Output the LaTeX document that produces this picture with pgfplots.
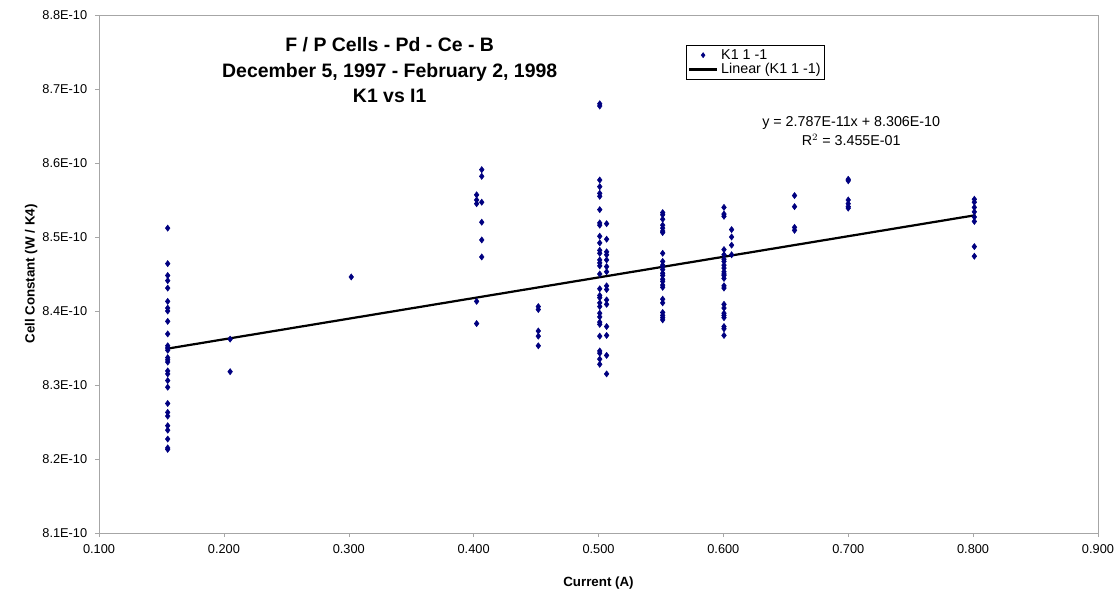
\documentclass[border=0pt]{standalone}
\usepackage{pgfplots}
\pgfplotsset{compat=1.18}
\usepackage{fontspec}
\setmainfont{Liberation Sans}
\definecolor{navy}{HTML}{000080}

\begin{document}
\begin{tikzpicture}
% page = 1117x593 px at 0.72pt/px, axis box at (99,15)-(1098,533)
\path[use as bounding box] (-71.3pt,-43.2pt) rectangle (733pt,383.8pt);
\begin{axis}[
    scale only axis,
    width=719.3pt, height=373pt,
    xmin=0.1, xmax=0.9, ymin=8.1, ymax=8.8,
    xtick={0.1,0.2,...,0.9},
    xticklabels={0.100,0.200,0.300,0.400,0.500,0.600,0.700,0.800,0.900},
    ytick={8.1,8.2,...,8.8},
    yticklabels={8.1E-10,8.2E-10,8.3E-10,8.4E-10,8.5E-10,8.6E-10,8.7E-10,8.8E-10},
    tick label style={font=\fontsize{9.2}{10}\selectfont},
    xticklabel style={yshift=-2pt},
    yticklabel style={xshift=-2pt},
    tick align=outside,
    xtick pos=bottom, ytick pos=left,
    major tick length=3pt,
    axis line style={gray!70},
    tick style={gray!70},
    xlabel={\bfseries Current (A)},
    ylabel={\bfseries Cell Constant (W / K4)},
    label style={font=\fontsize{9.6}{10}\selectfont},
    xlabel style={at={(axis description cs:0.5,-0.076)},anchor=north},
    ylabel style={at={(axis description cs:-0.068,0.5)},anchor=center},
    legend style={at={(rel axis cs:0.588,0.942)},anchor=north west,
        font=\fontsize{10.3}{11}\selectfont, draw=black, inner sep=0.8pt,
        row sep=-2.5pt, cells={anchor=west}},
]
% y values in units of 1E-10
\addplot[only marks, mark=diamond*, mark size=2.2pt, color=navy,
    legend image code/.code={\draw[navy,fill=navy,mark=diamond*,mark size=1.8pt] plot coordinates {(0.36cm,0cm)};}]
table {
x y
0.155 8.512
0.155 8.464
0.155 8.448
0.155 8.441
0.155 8.431
0.155 8.413
0.155 8.404
0.155 8.400
0.155 8.386
0.155 8.369
0.155 8.353
0.155 8.350
0.155 8.347
0.155 8.337
0.155 8.334
0.155 8.331
0.155 8.319
0.155 8.315
0.155 8.306
0.155 8.297
0.155 8.275
0.155 8.263
0.155 8.258
0.155 8.245
0.155 8.239
0.155 8.227
0.155 8.215
0.155 8.213
0.205 8.362
0.205 8.318
0.302 8.446
0.4065 8.591
0.4065 8.582
0.4024 8.557
0.4024 8.550
0.4024 8.545
0.4065 8.547
0.4065 8.520
0.4065 8.496
0.4065 8.473
0.4024 8.413
0.4024 8.383
0.4518 8.406
0.4518 8.402
0.4518 8.373
0.4518 8.366
0.4518 8.353
0.501 8.680
0.501 8.677
0.501 8.577
0.501 8.568
0.501 8.559
0.501 8.555
0.501 8.537
0.501 8.519
0.501 8.516
0.501 8.501
0.501 8.492
0.501 8.482
0.501 8.478
0.501 8.469
0.501 8.465
0.501 8.461
0.501 8.450
0.501 8.430
0.501 8.421
0.501 8.418
0.501 8.411
0.501 8.406
0.501 8.397
0.501 8.392
0.501 8.385
0.501 8.382
0.501 8.366
0.501 8.346
0.501 8.343
0.501 8.335
0.501 8.328
0.5065 8.518
0.5065 8.497
0.5065 8.480
0.5065 8.476
0.5065 8.469
0.5065 8.460
0.5065 8.453
0.5065 8.434
0.5065 8.429
0.5065 8.415
0.5065 8.409
0.5065 8.379
0.5065 8.367
0.5065 8.340
0.5065 8.315
0.5514 8.533
0.5514 8.530
0.5514 8.524
0.5514 8.516
0.5514 8.512
0.5514 8.508
0.5514 8.506
0.5514 8.478
0.5514 8.467
0.5514 8.462
0.5514 8.460
0.5514 8.456
0.5514 8.451
0.5514 8.448
0.5514 8.443
0.5514 8.440
0.5514 8.435
0.5514 8.432
0.5514 8.416
0.5514 8.411
0.5514 8.398
0.5514 8.394
0.5514 8.391
0.5514 8.388
0.6005 8.540
0.6005 8.531
0.6005 8.528
0.6005 8.483
0.6005 8.476
0.6005 8.470
0.6005 8.467
0.6005 8.462
0.6005 8.458
0.6005 8.453
0.6005 8.450
0.6005 8.448
0.6005 8.444
0.6005 8.434
0.6005 8.431
0.6005 8.409
0.6005 8.404
0.6005 8.397
0.6005 8.394
0.6005 8.391
0.6005 8.379
0.6005 8.376
0.6005 8.367
0.6066 8.510
0.6066 8.500
0.6066 8.489
0.6066 8.476
0.657 8.556
0.657 8.541
0.657 8.513
0.657 8.509
0.700 8.578
0.700 8.576
0.700 8.550
0.700 8.545
0.700 8.541
0.700 8.539
0.801 8.551
0.801 8.547
0.801 8.540
0.801 8.534
0.801 8.527
0.801 8.521
0.801 8.487
0.801 8.474
};
\addlegendentry{K1 1 -1}
% linear trend y = 2.787E-11x + 8.306E-10
\addplot[black, line width=1.6pt,
    legend image code/.code={\draw[black,line width=1.6pt] (0cm,0cm) -- (0.72cm,0cm);}]
coordinates {(0.155,8.3492) (0.802,8.5295)};
\addlegendentry{Linear (K1 1 -1)}
\node[align=center, font=\fontsize{14}{18.5}\selectfont\bfseries, anchor=north]
    at (rel axis cs:0.291,0.966) {F / P Cells - Pd - Ce - B\\December 5, 1997 - February 2, 1998\\K1 vs I1};
\node[align=center, font=\fontsize{10.3}{13.5}\selectfont, anchor=north]
    at (rel axis cs:0.753,0.813) {y = 2.787E-11x + 8.306E-10\\R$^2$ = 3.455E-01};
\end{axis}
\end{tikzpicture}
\end{document}
